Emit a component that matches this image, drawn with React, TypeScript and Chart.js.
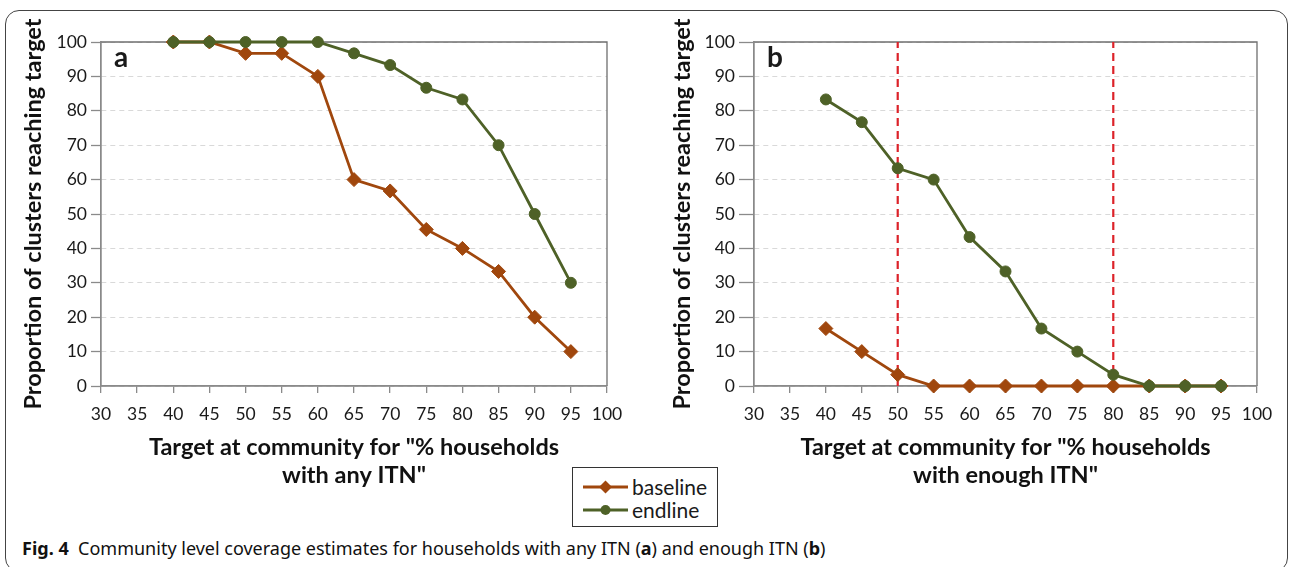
import React, { useEffect, useRef } from "react";
import { Chart, registerables } from "chart.js";

Chart.register(...registerables);

// ---------- data ----------
const targets = [40, 45, 50, 55, 60, 65, 70, 75, 80, 85, 90, 95];
const baselineAny = [100, 100, 96.7, 96.7, 90, 60, 56.7, 45.5, 40, 33.3, 20, 10];
const endlineAny = [100, 100, 100, 100, 100, 96.7, 93.3, 86.7, 83.3, 70, 50, 30];
const baselineEnough = [16.7, 10, 3.3, 0, 0, 0, 0, 0, 0, 0, 0, 0];
const endlineEnough = [83.3, 76.7, 63.3, 60, 43.3, 33.3, 16.7, 10, 3.3, 0, 0, 0];
const thresholdsEnough = [50, 80];
const xAxisRange = [30, 100, 5];
const yAxisRange = [0, 100, 10];
const yTitle = "Proportion of clusters reaching target";
const xTitleAny = ['Target at community for "% households', 'with any ITN"'];
const xTitleEnough = ['Target at community for "% households', 'with enough ITN"'];
const seriesNames = ["baseline", "endline"];

// ---------- styles ----------
const FONT = "Lato, 'Open Sans', sans-serif";
const BROWN = "#A0470D";
const GREEN = "#4E6127";
const RED = "#DC2229";
const AXIS = "#8a8a8a";
const FRAME = "#6f6f6f";
const GRID = "#d9d9d9";
const TEXT = "#1a1a1a";

type PanelProps = {
  left: number;
  width: number;
  yAxisWidth: number;
  yTitlePad: number;
  yTickLen: number;
  rightPad: number;
  xTitle: string[];
  baseline: number[];
  endline: number[];
  thresholds: number[];
  label: string;
};

function Panel(p: PanelProps) {
  const ref = useRef<HTMLCanvasElement>(null);
  useEffect(() => {
    if (!ref.current) return;
    const datasets: any[] = [
      {
        label: seriesNames[1],
        data: targets.map((x, i) => ({ x, y: p.endline[i] })),
        borderColor: GREEN,
        backgroundColor: GREEN,
        borderWidth: 2.8,
        pointStyle: "circle",
        pointRadius: 5.5,
        pointBorderWidth: 1,
        order: 0,
        clip: false,
      },
      {
        label: seriesNames[0],
        data: targets.map((x, i) => ({ x, y: p.baseline[i] })),
        borderColor: BROWN,
        backgroundColor: BROWN,
        borderWidth: 2.8,
        pointStyle: "rectRot",
        pointRadius: 7,
        pointBorderWidth: 1,
        order: 1,
        clip: false,
      },
    ];
    p.thresholds.forEach((t) => {
      datasets.push({
        label: "threshold",
        data: [
          { x: t, y: yAxisRange[0] },
          { x: t, y: yAxisRange[1] },
        ],
        borderColor: RED,
        borderWidth: 2.2,
        borderDash: [8, 5],
        pointRadius: 0,
        order: 2,
        clip: false,
      });
    });

    const framePlugin = {
      id: "frame",
      beforeDatasetsDraw(chart: any) {
        const { ctx, chartArea } = chart;
        const { left, right, top, bottom } = chartArea;
        ctx.save();
        ctx.lineWidth = 1.3;
        ctx.setLineDash([]);
        ctx.strokeStyle = FRAME;
        ctx.beginPath();
        ctx.moveTo(left, top);
        ctx.lineTo(right, top);
        ctx.lineTo(right, bottom);
        ctx.stroke();
        ctx.strokeStyle = AXIS;
        ctx.beginPath();
        ctx.moveTo(left, top);
        ctx.lineTo(left, bottom);
        ctx.lineTo(right, bottom);
        ctx.stroke();
        ctx.restore();
      },
      afterDraw(chart: any) {
        const { ctx, chartArea } = chart;
        ctx.save();
        ctx.font = `bold 28px ${FONT}`;
        ctx.fillStyle = TEXT;
        ctx.textBaseline = "alphabetic";
        ctx.textAlign = "left";
        ctx.fillText(p.label, chartArea.left + 13, chartArea.top + 25);
        ctx.restore();
      },
    };

    const chart = new Chart(ref.current, {
      type: "line",
      data: { datasets },
      plugins: [framePlugin],
      options: {
        responsive: false,
        animation: false,
        devicePixelRatio: 1,
        layout: { padding: { top: 42, right: p.rightPad, left: 0, bottom: 0 } },
        plugins: { legend: { display: false }, tooltip: { enabled: false } },
        scales: {
          x: {
            type: "linear",
            min: xAxisRange[0],
            max: xAxisRange[1],
            ticks: {
              stepSize: xAxisRange[2],
              color: TEXT,
              font: { family: FONT, size: 17.5 },
              padding: 11,
              maxRotation: 0,
              autoSkip: false,
            },
            grid: {
              drawOnChartArea: false,
              drawTicks: true,
              tickLength: 7,
              tickColor: AXIS,
              color: AXIS,
              lineWidth: 1.3,
            },
            border: { color: AXIS, width: 1.3 },
            title: {
              display: true,
              text: p.xTitle,
              color: "#111",
              font: { family: FONT, size: 23.5, weight: "bold", lineHeight: 1.19 },
              padding: { top: 0, bottom: 31 },
            },
            afterFit: (s: any) => {
              s.height = 134;
            },
          } as any,
          y: {
            type: "linear",
            min: yAxisRange[0],
            max: yAxisRange[1],
            ticks: {
              stepSize: yAxisRange[2],
              color: TEXT,
              font: { family: FONT, size: 17.5 },
              padding: 4,
            },
            grid: {
              color: GRID,
              lineWidth: 1,
              drawTicks: true,
              tickLength: p.yTickLen,
              tickColor: AXIS,
              tickWidth: 1.3,
              tickBorderDash: [],
            },
            border: { color: AXIS, width: 1.3, dash: [5, 4] },
            title: {
              display: true,
              text: yTitle,
              color: "#111",
              font: { family: FONT, size: 23.5, weight: "bold", lineHeight: 1.2 },
              padding: { top: p.yTitlePad, bottom: 0 },
            },
            afterFit: (s: any) => {
              s.width = p.yAxisWidth;
            },
          } as any,
        },
      },
    });
    return () => chart.destroy();
  }, []);
  return (
    <canvas
      ref={ref}
      width={p.width}
      height={520}
      style={{ position: "absolute", left: p.left, top: 0, width: p.width, height: 520 }}
    />
  );
}

function LegendSymbol({ color, shape }: { color: string; shape: "diamond" | "circle" }) {
  return (
    <svg width={45} height={16} style={{ display: "block", flex: "none" }}>
      <line x1={0} y1={8} x2={45} y2={8} stroke={color} strokeWidth={2.8} />
      {shape === "diamond" ? (
        <polygon points="22.5,1.5 29,8 22.5,14.5 16,8" fill={color} />
      ) : (
        <circle cx={22.5} cy={8} r={5} fill={color} />
      )}
    </svg>
  );
}

export default function App() {
  useEffect(() => {
    document.body.style.margin = "0";
  }, []);
  const rowStyle: React.CSSProperties = {
    position: "absolute",
    left: 10,
    height: 23,
    display: "flex",
    alignItems: "center",
    gap: 4,
    fontFamily: FONT,
    fontSize: 21,
    color: TEXT,
    lineHeight: "23px",
  };
  return (
    <div
      style={{
        position: "fixed",
        left: 0,
        top: 0,
        width: 1290,
        height: 567,
        background: "#fff",
        overflow: "hidden",
      }}
    >
      <div
        style={{
          position: "absolute",
          left: 5,
          top: 10,
          width: 1283,
          height: 562,
          boxSizing: "border-box",
          border: "1.5px solid #444",
          borderRadius: 14,
        }}
      />
      <Panel
        left={0}
        width={640}
        yAxisWidth={101}
        yTitlePad={19}
        yTickLen={10}
        rightPad={33}
        xTitle={xTitleAny}
        baseline={baselineAny}
        endline={endlineAny}
        thresholds={[]}
        label="a"
      />
      <Panel
        left={640}
        width={650}
        yAxisWidth={114}
        yTitlePad={28}
        yTickLen={15}
        rightPad={33}
        xTitle={xTitleEnough}
        baseline={baselineEnough}
        endline={endlineEnough}
        thresholds={thresholdsEnough}
        label="b"
      />
      <div
        style={{
          position: "absolute",
          left: 572,
          top: 467,
          width: 146,
          height: 60,
          boxSizing: "border-box",
          border: "1.3px solid #333",
          background: "#fff",
        }}
      >
        <div style={{ ...rowStyle, top: 7 }}>
          <LegendSymbol color={BROWN} shape="diamond" />
          <span>{seriesNames[0]}</span>
        </div>
        <div style={{ ...rowStyle, top: 30 }}>
          <LegendSymbol color={GREEN} shape="circle" />
          <span>{seriesNames[1]}</span>
        </div>
      </div>
      <div
        style={{
          position: "absolute",
          left: 22,
          top: 537,
          lineHeight: "22px",
          fontFamily: "'Noto Sans', 'Open Sans', sans-serif",
          fontSize: 18,
          color: "#111",
          whiteSpace: "nowrap",
        }}
      >
        <b>Fig. 4</b>
        {"\u00a0\u00a0"}Community level coverage estimates for households with any ITN (<b>a</b>) and
        enough ITN (<b>b</b>)
      </div>
    </div>
  );
}
